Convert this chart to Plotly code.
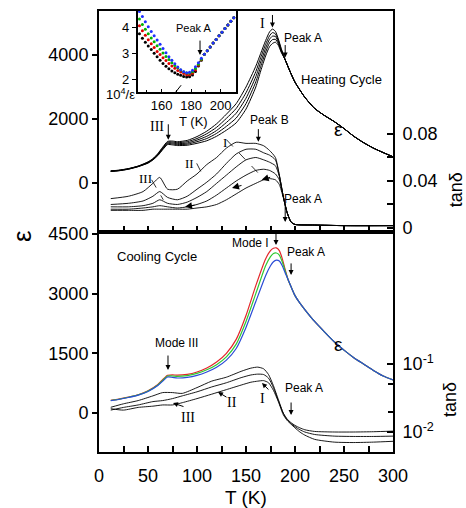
import plotly.graph_objects as go

SANS = "Liberation Sans, Arial, sans-serif"
SERIF = "Liberation Serif, Times New Roman, serif"

# ---------------- data ----------------
# Heating cycle: permittivity, five frequencies
heat_T = [12, 20, 30, 40, 50, 55, 60, 65, 70, 75, 80, 90, 100, 110, 120, 130, 140,
          150, 160, 165, 170, 174, 177, 180, 183, 186]
heat_eps_1 = [380, 400, 450, 530, 660, 760, 920, 1120, 1300, 1310, 1290, 1330, 1450, 1620,
              1850, 2150, 2480, 3000, 3650, 4050, 4450, 4720, 4810, 4740, 4500, 4200]
heat_eps_2 = [375, 395, 445, 525, 650, 750, 900, 1100, 1275, 1280, 1260, 1290, 1390, 1540,
              1740, 2020, 2330, 2820, 3480, 3920, 4330, 4600, 4700, 4660, 4450, 4170]
heat_eps_3 = [370, 390, 440, 520, 640, 740, 885, 1080, 1250, 1250, 1230, 1250, 1340, 1460,
              1640, 1890, 2180, 2650, 3320, 3780, 4210, 4490, 4590, 4580, 4400, 4140]
heat_eps_4 = [365, 385, 435, 515, 630, 730, 870, 1060, 1225, 1220, 1200, 1215, 1290, 1390,
              1550, 1770, 2030, 2480, 3160, 3640, 4090, 4380, 4480, 4490, 4350, 4110]
heat_eps_5 = [360, 380, 430, 510, 620, 720, 855, 1040, 1200, 1190, 1170, 1180, 1240, 1320,
              1460, 1650, 1880, 2310, 3000, 3500, 3970, 4260, 4360, 4400, 4300, 4080]
heat_T_tail = [190, 195, 200, 210, 220, 230, 240, 250, 260, 270, 280, 290, 300]
heat_eps_tail = [3850, 3480, 3150, 2680, 2330, 2110, 1920, 1700, 1460, 1260, 1090, 950, 820]

# Heating cycle: loss tangent
heat_tan_T = [12, 30, 45, 55, 62, 70, 80, 90, 100, 110, 120, 130, 140, 150, 160, 168, 174,
              180, 184, 188, 192, 196, 200, 220, 250, 300]
heat_tan_1 = [0.025, 0.027, 0.031, 0.038, 0.043, 0.033, 0.033, 0.040, 0.046, 0.054, 0.060,
              0.068, 0.073, 0.072, 0.072, 0.070, 0.066, 0.060, 0.045, 0.027, 0.013, 0.005,
              0.003, 0.0025, 0.002, 0.002]
heat_tan_2 = [0.020, 0.021, 0.023, 0.027, 0.031, 0.026, 0.024, 0.027, 0.033, 0.039, 0.046,
              0.055, 0.063, 0.067, 0.067, 0.064, 0.062, 0.058, 0.045, 0.027, 0.013, 0.005,
              0.003, 0.0025, 0.002, 0.002]
heat_tan_3 = [0.018, 0.018, 0.019, 0.021, 0.024, 0.021, 0.020, 0.022, 0.026, 0.031, 0.038,
              0.045, 0.052, 0.058, 0.060, 0.058, 0.056, 0.053, 0.044, 0.027, 0.013, 0.005,
              0.003, 0.0025, 0.002, 0.002]
heat_tan_4 = [0.016, 0.016, 0.017, 0.018, 0.019, 0.018, 0.017, 0.018, 0.020, 0.023, 0.028,
              0.034, 0.040, 0.045, 0.049, 0.050, 0.049, 0.046, 0.041, 0.027, 0.013, 0.005,
              0.003, 0.0025, 0.002, 0.002]
heat_tan_5 = [0.015, 0.015, 0.015, 0.016, 0.016, 0.016, 0.016, 0.016, 0.017, 0.018, 0.020,
              0.024, 0.029, 0.034, 0.038, 0.041, 0.042, 0.041, 0.037, 0.026, 0.013, 0.005,
              0.003, 0.0025, 0.002, 0.002]

# Cooling cycle: permittivity (red, green, blue)
cool_T = [12, 20, 30, 40, 50, 60, 65, 70, 75, 80, 90, 100, 110, 120, 130, 140, 150, 160,
          170, 175, 178, 181, 184, 187, 190]
cool_eps_red = [320, 350, 400, 460, 560, 720, 840, 950, 960, 950, 970, 1030, 1130, 1280,
                1500, 1850, 2450, 3200, 3870, 4080, 4140, 4150, 4080, 3880, 3600]
cool_eps_green = [315, 345, 395, 455, 550, 705, 820, 930, 930, 920, 940, 995, 1085, 1215,
                  1410, 1730, 2300, 3000, 3700, 3930, 4010, 4020, 3970, 3800, 3570]
cool_eps_blue = [310, 340, 390, 450, 540, 690, 800, 905, 895, 880, 895, 945, 1030, 1150,
                 1330, 1620, 2150, 2800, 3450, 3700, 3800, 3840, 3820, 3700, 3520]
cool_T_tail = [193, 196, 200, 205, 210, 220, 230, 240, 250, 260, 270, 280, 290, 300]
cool_eps_tail = [3350, 3170, 2950, 2760, 2600, 2300, 2040, 1790, 1580, 1390, 1230, 1070,
                 930, 830]

# Cooling cycle: loss tangent (log scale)
cool_tan_T = [12, 25, 40, 55, 65, 75, 85, 100, 115, 130, 145, 155, 162, 168, 173, 178, 183,
              188, 192, 196, 200, 205, 210, 220, 240, 260, 280, 300]
cool_tan_1 = [0.0231, 0.026, 0.029, 0.034, 0.038, 0.038, 0.037, 0.045, 0.056, 0.064, 0.078,
              0.087, 0.090, 0.085, 0.070, 0.048, 0.030, 0.019, 0.0155, 0.0137, 0.0125,
              0.0115, 0.0108, 0.0102, 0.0100, 0.0100, 0.0101, 0.0103]
cool_tan_2 = [0.021, 0.023, 0.025, 0.028, 0.029, 0.031, 0.034, 0.039, 0.046, 0.053, 0.063,
              0.069, 0.071, 0.070, 0.062, 0.045, 0.029, 0.019, 0.0152, 0.0133, 0.0120,
              0.0108, 0.0100, 0.0092, 0.0087, 0.0086, 0.0086, 0.0087]
cool_tan_3 = [0.022, 0.021, 0.023, 0.024, 0.025, 0.025, 0.027, 0.031, 0.036, 0.042, 0.049,
              0.054, 0.056, 0.057, 0.053, 0.041, 0.028, 0.018, 0.0148, 0.0130, 0.0115,
              0.0100, 0.0090, 0.0078, 0.0071, 0.0070, 0.0071, 0.0073]

# Inset: 10^4/eps vs T (heating)
inset_T = [145, 147, 149, 151, 153, 155, 157, 159, 161, 163, 165, 167, 169, 171, 173, 175,
           177, 179, 181, 183, 185, 187]
inset_black = [3.74, 3.57, 3.41, 3.27, 3.13, 2.99, 2.86, 2.72, 2.60, 2.49, 2.39, 2.31, 2.24,
               2.18, 2.14, 2.10, 2.08, 2.09, 2.15, 2.29, 2.50, 2.72]
inset_red = [4.05, 3.86, 3.68, 3.51, 3.36, 3.21, 3.06, 2.94, 2.82, 2.71, 2.60, 2.50, 2.41,
             2.33, 2.27, 2.21, 2.16, 2.16, 2.22, 2.35, 2.53, 2.74]
inset_green = [4.31, 4.10, 3.91, 3.74, 3.58, 3.43, 3.28, 3.14, 3.00, 2.87, 2.75, 2.63, 2.52,
               2.43, 2.35, 2.28, 2.23, 2.23, 2.28, 2.40, 2.57, 2.76]
inset_blue = [4.60, 4.40, 4.20, 4.01, 3.83, 3.66, 3.50, 3.34, 3.17, 3.01, 2.86, 2.72, 2.59,
              2.46, 2.36, 2.28, 2.24, 2.26, 2.34, 2.47, 2.63, 2.80]
inset_T_tail = [189, 191, 193, 195, 197, 199, 201, 203, 205, 207, 209]
inset_tail = [2.95, 3.09, 3.23, 3.38, 3.52, 3.66, 3.80, 3.94, 4.08, 4.22, 4.36]
cw_T = [169.5, 187]          # Curie-Weiss extrapolation (dashed)
cw_val = [1.49, 2.75]

# tick labels
x_ticks = [0, 50, 100, 150, 200, 250, 300]
heat_eps_ticks = [0, 2000, 4000]
cool_eps_ticks = [0, 1500, 3000, 4500]
heat_tan_ticks = [0, 0.04, 0.08]
heat_tan_labels = ["0", "0.04", "0.08"]
cool_tan_ticks = [0.01, 0.1]
cool_tan_labels = ["10<sup>-2</sup>", "10<sup>-1</sup>"]
inset_x_ticks = [160, 180, 200]
inset_y_ticks = [2, 3, 4]

# ---------------- figure ----------------
fig = go.Figure()


def line(x, y, xa, ya, color, width=1.0, dash=None, shape="spline"):
    fig.add_trace(go.Scatter(
        x=x, y=y, xaxis=xa, yaxis=ya, mode="lines",
        line=dict(color=color, width=width, shape=shape, smoothing=0.6, dash=dash),
        hoverinfo="skip", showlegend=False))


for e in [heat_eps_5, heat_eps_4, heat_eps_3, heat_eps_2, heat_eps_1]:
    line(heat_T + heat_T_tail, e + heat_eps_tail, "x2", "y3", "black", 1.0)
for t in [heat_tan_5, heat_tan_4, heat_tan_3, heat_tan_2, heat_tan_1]:
    line(heat_tan_T, t, "x2", "y4", "black", 0.9)

for e, c in [(cool_eps_red, "#e3262a"), (cool_eps_green, "#2fc832"), (cool_eps_blue, "#2b4cd6")]:
    line(cool_T + cool_T_tail, e + cool_eps_tail, "x", "y", c, 1.2)
for t in [cool_tan_3, cool_tan_2, cool_tan_1]:
    line(cool_tan_T, t, "x", "y2", "black", 0.9)

# inset
line(cw_T, cw_val, "x3", "y5", "black", 1.0, dash="dash", shape="linear")
for v, c in [(inset_black, "black"), (inset_red, "#e00000"), (inset_green, "#00b400"),
             (inset_blue, "#1f2fff")]:
    fig.add_trace(go.Scatter(
        x=inset_T + inset_T_tail, y=v + inset_tail, xaxis="x3", yaxis="y5", mode="markers",
        marker=dict(color=c, size=3), hoverinfo="skip", showlegend=False))

# ---------------- axes ----------------
AX = dict(showline=True, linecolor="black", linewidth=2, mirror=True, showgrid=False,
          zeroline=False, automargin=False, tickcolor="black", tickwidth=1.5,
          tickfont=dict(family=SANS, size=18, color="black"))

fig.update_layout(
    width=466, height=508, margin=dict(l=99, r=73, t=11, b=56, autoexpand=False),
    paper_bgcolor="white", plot_bgcolor="white", showlegend=False,
    font=dict(family=SANS, color="black"),
    xaxis=dict(AX, domain=[0, 1], anchor="y", range=[0, 300], tickmode="array",
               tickvals=x_ticks, ticks="inside", ticklen=6, ticklabelstandoff=6,
               minor=dict(tickvals=[25, 75, 125, 175, 225, 275], ticks="inside", ticklen=6,
                          tickwidth=1.5, tickcolor="black")),
    yaxis=dict(AX, domain=[0, 0.5], anchor="x", range=[-980, 4561], tickmode="array",
               tickvals=cool_eps_ticks, ticks="outside", ticklen=5),
    yaxis2=dict(AX, overlaying="y", anchor="x", side="right", type="log",
                range=[-2.294, 0.949], tickmode="array", tickvals=cool_tan_ticks,
                ticktext=cool_tan_labels, ticks="inside", ticklen=6, ticklabelstandoff=4,
                minor=dict(tickvals=[0.02, 0.05], ticks="inside", ticklen=5,
                           tickwidth=1.5, tickcolor="black")),
    xaxis2=dict(AX, domain=[0, 1], anchor="y3", range=[0, 300], showticklabels=False,
                tickmode="array", tickvals=[25, 50, 75, 100, 125, 150, 175, 200, 225, 250, 275],
                ticks="inside", ticklen=6),
    yaxis3=dict(AX, domain=[0.5, 1], anchor="x2", range=[-1516, 5375], tickmode="array",
                tickvals=heat_eps_ticks, ticks="outside", ticklen=5),
    yaxis4=dict(AX, overlaying="y3", anchor="x2", side="right", range=[-0.003, 0.1847],
                tickmode="array", tickvals=heat_tan_ticks, ticktext=heat_tan_labels,
                ticks="inside", ticklen=6, ticklabelstandoff=4,
                minor=dict(tickvals=[0.02, 0.06], ticks="inside", ticklen=6,
                           tickwidth=1.5, tickcolor="black")),
    xaxis3=dict(AX, domain=[0.131, 0.466], anchor="y5", range=[143.7, 210.5], linewidth=1.5,
                tickmode="array", tickvals=inset_x_ticks, ticks="inside", ticklen=4,
                tickwidth=1, ticklabelstandoff=0,
                minor=dict(tickvals=[150, 170, 190, 210], ticks="inside", ticklen=3,
                           tickwidth=1, tickcolor="black"),
                tickfont=dict(family=SANS, size=13, color="black")),
    yaxis5=dict(AX, domain=[0.8157, 1.0], anchor="x3", range=[1.49, 4.615], linewidth=1.5,
                tickmode="array", tickvals=inset_y_ticks, ticks="outside", ticklen=4,
                tickwidth=1, tickfont=dict(family=SANS, size=13, color="black")),
)

# ---------------- annotations ----------------
ann = []


def txt(x, y, xref, yref, s, size=12, family=SANS, xanchor="center", angle=0):
    ann.append(dict(x=x, y=y, xref=xref, yref=yref, text=s, showarrow=False,
                    xanchor=xanchor, yanchor="middle", textangle=angle,
                    font=dict(family=family, size=size, color="black")))


def arrow(x, y, xref, yref, ax=0, ay=-14, head=2, size=1.0):
    ann.append(dict(x=x, y=y, xref=xref, yref=yref, text="", showarrow=True,
                    ax=ax, ay=ay, arrowhead=head, arrowsize=size, arrowwidth=1,
                    arrowcolor="black", standoff=0))


# heating panel
txt(167, 5000, "x2", "y3", "I", 14, SERIF)
arrow(177, 4860, "x2", "y3", ay=-14)
txt(186.7, 4522, "x2", "y3", "Peak A", 12, xanchor="left")
arrow(190, 3920, "x2", "y3", ay=-14)
txt(204.4, 3220, "x2", "y3", "Heating Cycle", 13, xanchor="left")
txt(244, 1660, "x2", "y3", "ε", 19)
txt(59.5, 1760, "x2", "y3", "III", 14, SERIF)
arrow(70.7, 1350, "x2", "y3", ay=-17)
txt(173.5, 0.092, "x2", "y4", "Peak B", 12)
arrow(162.6, 0.0735, "x2", "y4", ay=-14)
txt(186.7, 0.0244, "x2", "y4", "Peak A", 12, xanchor="left")
arrow(190, 0.005, "x2", "y4", ay=-18)
txt(47, 0.0425, "x2", "y4", "III", 13, SERIF)
txt(92.3, 0.055, "x2", "y4", "II", 13, SERIF)
txt(128.6, 0.073, "x2", "y4", "I", 13, SERIF)
arrow(135.7, 0.034, "x2", "y4", ax=11, ay=-3, head=2, size=1.4)
arrow(87.8, 0.018, "x2", "y4", ax=11, ay=-2, head=2, size=1.4)
arrow(166, 0.041, "x2", "y4", ax=10, ay=-3, head=2, size=1.4)

# cooling panel
txt(16.3, 3945, "x", "y", "Cooling Cycle", 13, xanchor="left")
txt(78.6, 1760, "x", "y", "Mode III", 12)
arrow(70.4, 1080, "x", "y", ay=-16)
txt(154.6, 4272, "x", "y", "Mode I", 12)
arrow(180.6, 4222, "x", "y", ay=-13)
txt(189.8, 4053, "x", "y", "Peak A", 12, xanchor="left")
arrow(196, 3470, "x", "y", ay=-13)
txt(244, 1709, "x", "y", "ε", 19)
txt(188, -1.357, "x", "y2", "Peak A", 12, xanchor="left")
arrow(196, -1.75, "x", "y2", ay=-14)
txt(167.3, -1.50, "x", "y2", "I", 14, SERIF)
arrow(166.3, -1.28, "x", "y2", ax=8, ay=8)
txt(135.7, -1.559, "x", "y2", "II", 14, SERIF)
arrow(121.4, -1.412, "x", "y2", ax=10, ay=6)
txt(90.8, -1.78, "x", "y2", "III", 14, SERIF)
arrow(75.5, -1.574, "x", "y2", ax=12, ay=4)

# inset
txt(182, 3.96, "x3", "y5", "Peak A", 11)
arrow(186.1, 2.92, "x3", "y5", ay=-16)
txt(0.074, 0.812, "paper", "paper", "10<sup>4</sup>/ε", 13)
txt(0.32, 0.750, "paper", "paper", "T (K)", 13)

# axis titles
txt(0.5, -0.104, "paper", "paper", "T (K)", 19)
txt(-0.262, 0.49, "paper", "paper", "ε", 26, angle=-90)
txt(1.215, 0.594, "paper", "paper", "tanδ", 18, angle=-90)
txt(1.194, 0.118, "paper", "paper", "tanδ", 18, angle=-90)

fig.update_layout(annotations=ann)

# dashed leader lines in heating loss panel
for (x0, y0, x1, y1) in [(53.7, 0.041, 65.6, 0.024), (99.7, 0.055, 104.8, 0.0466),
                         (130.3, 0.0749, 166, 0.0437)]:
    fig.add_shape(type="line", xref="x2", yref="y4", x0=x0, y0=y0, x1=x1, y1=y1,
                  line=dict(color="black", width=0.8, dash="dash"))

fig.write_html("out.html", config={"displayModeBar": False})

# remove the browser's default page margin so the figure sits at the window's corner
with open("out.html", "r", encoding="utf-8") as f:
    html = f.read()
html = html.replace("<head>", "<head><style>html,body{margin:0;padding:0;overflow:hidden;}</style>", 1)
with open("out.html", "w", encoding="utf-8") as f:
    f.write(html)
